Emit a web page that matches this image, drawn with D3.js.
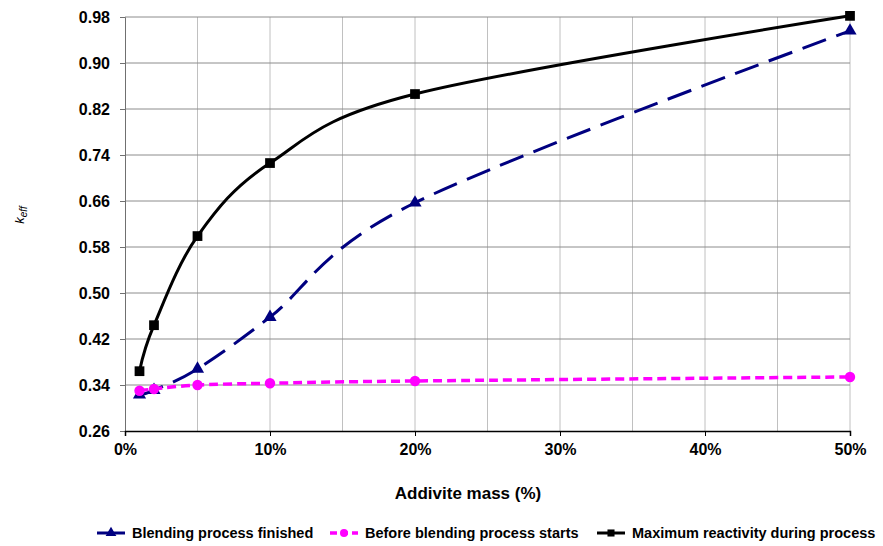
<!DOCTYPE html>
<html>
<head>
<meta charset="utf-8">
<script src="https://cdn.jsdelivr.net/npm/d3@7"></script>
<style>
    body { margin: 0; background: #fff; }
    svg text { font-family: "Liberation Sans", Arial, sans-serif; font-weight: bold; fill: #000; }
</style>
</head>
<body>
<div class="chart"></div>
<script>
const additive = [1, 2, 5, 10, 20, 50];
const blendingFinished = [0.323, 0.331, 0.368, 0.458, 0.657, 0.956];
const beforeBlending = [0.330, 0.333, 0.340, 0.343, 0.347, 0.354];
const maxReactivity = [0.364, 0.444, 0.599, 0.726, 0.846, 0.982];
const yTicks = [0.26, 0.34, 0.42, 0.50, 0.58, 0.66, 0.74, 0.82, 0.90, 0.98];
const xTicks = [0, 10, 20, 30, 40, 50];
const xGrid = [5, 10, 15, 20, 25, 30, 35, 40, 45, 50];

const series = [
    {name: "Blending process finished", values: blendingFinished, color: "#000080", dash: "25,11", width: 3, marker: "triangle"},
    {name: "Before blending process starts", values: beforeBlending, color: "#ff00ff", dash: "9,5", width: 3.5, marker: "circle"},
    {name: "Maximum reactivity during process", values: maxReactivity, color: "#000000", dash: null, width: 3, marker: "square"}
];

let width = 883,
    height = 546,
    svg = d3.select("div.chart")
        .append("svg")
        .attr("width", width)
        .attr("height", height);

let x = d3.scaleLinear().domain([0, 50]).range([125, 850]),
    y = d3.scaleLinear().domain([0.26, 0.98]).range([431, 17]);

// gridlines
svg.append("g")
    .selectAll("line")
    .data(xGrid)
    .enter()
    .append("line")
    .attr("x1", d => x(d)).attr("x2", d => x(d))
    .attr("y1", y(0.98)).attr("y2", y(0.26))
    .style("stroke", "#c0c0c0")
    .style("stroke-width", 1);

svg.append("g")
    .selectAll("line")
    .data(yTicks.slice(1))
    .enter()
    .append("line")
    .attr("x1", x(0)).attr("x2", x(50))
    .attr("y1", d => y(d)).attr("y2", d => y(d))
    .style("stroke", "#8c8c8c")
    .style("stroke-width", 1);

// axes
let yAxis = svg.append("g")
    .attr("transform", `translate(${x(0)},0)`)
    .call(d3.axisLeft(y).tickValues(yTicks).tickFormat(d3.format(".2f")).tickSize(5).tickPadding(10));
yAxis.select(".domain").style("stroke", "#707070");
yAxis.selectAll(".tick line").style("stroke", "#707070");
yAxis.selectAll("text").style("font-size", "16px");

let xAxis = svg.append("g")
    .attr("transform", `translate(0,${y(0.26)})`)
    .call(d3.axisBottom(x).tickValues(xTicks).tickFormat(d => d + "%").tickSize(5).tickPadding(8));
xAxis.select(".domain").style("stroke", "#000").style("stroke-width", 1.5);
xAxis.selectAll(".tick line").style("stroke", "#000");
xAxis.selectAll("text").style("font-size", "16px");

// axis titles
svg.append("text")
    .attr("x", 468)
    .attr("y", 499)
    .attr("text-anchor", "middle")
    .style("font-size", "17px")
    .text("Addivite mass (%)");

let yLabel = svg.append("text")
    .attr("transform", "translate(24,215) rotate(-90)")
    .attr("text-anchor", "middle")
    .style("font-size", "13px")
    .style("font-weight", "normal")
    .style("font-style", "italic");
yLabel.append("tspan").text("k");
yLabel.append("tspan").attr("dy", 3).style("font-size", "10px").text("eff");

// lines
let line = d3.line()
    .x(d => x(d[0]))
    .y(d => y(d[1]))
    .curve(d3.curveCardinal);

const markerPath = {
    triangle: d3.symbol().type(d3.symbolTriangle).size(75),
    circle: d3.symbol().type(d3.symbolCircle).size(85),
    square: d3.symbol().type(d3.symbolSquare).size(95)
};

series.forEach(s => {
    let pts = additive.map((a, i) => [a, s.values[i]]);
    svg.append("path")
        .datum(pts)
        .attr("d", line)
        .style("fill", "none")
        .style("stroke", s.color)
        .style("stroke-width", s.width)
        .style("stroke-dasharray", s.dash);
    svg.append("g")
        .selectAll("path")
        .data(pts)
        .enter()
        .append("path")
        .attr("transform", d => `translate(${x(d[0])},${y(d[1])})`)
        .attr("d", markerPath[s.marker])
        .style("fill", s.color);
});

// legend
const legendX = [97, 330, 597];
series.forEach((s, i) => {
    let g = svg.append("g").attr("transform", `translate(${legendX[i]},533)`);
    g.append("line")
        .attr("x1", 0).attr("x2", 28)
        .style("stroke", s.color)
        .style("stroke-width", s.width)
        .style("stroke-dasharray", s.marker === "circle" ? "7,4" : null);
    g.append("path")
        .attr("transform", "translate(14,0)")
        .attr("d", d3.symbol().type(s.marker === "triangle" ? d3.symbolTriangle : s.marker === "circle" ? d3.symbolCircle : d3.symbolSquare).size(50))
        .style("fill", s.color);
    g.append("text")
        .attr("x", 35)
        .attr("y", 5)
        .style("font-size", "14.5px")
        .text(s.name);
});
</script>
</body>
</html>
